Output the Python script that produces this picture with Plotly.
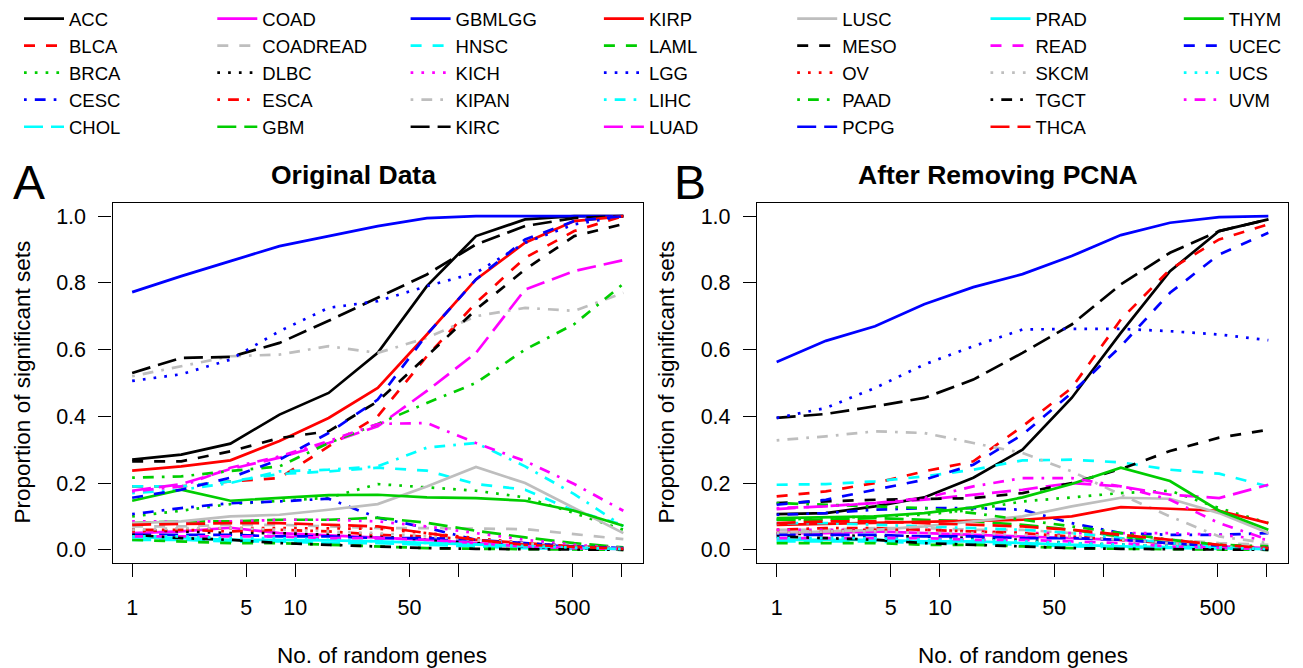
import plotly.graph_objects as go

# ---------------- data ----------------
n_genes = [1, 2, 4, 8, 16, 32, 64, 128, 256, 512, 1024]

cancers = ["ACC", "BLCA", "BRCA", "CESC", "CHOL", "COAD", "COADREAD", "DLBC", "ESCA",
           "GBM", "GBMLGG", "HNSC", "KICH", "KIPAN", "KIRC", "KIRP", "LAML", "LGG",
           "LIHC", "LUAD", "LUSC", "MESO", "OV", "PAAD", "PCPG", "PRAD", "READ",
           "SKCM", "TGCT", "THCA", "THYM", "UCEC", "UCS", "UVM"]

# Panel A: Original Data
orig_ACC = [0.27, 0.285, 0.318, 0.405, 0.47, 0.59, 0.79, 0.94, 0.99, 1.0, 1.0]
orig_BLCA = [0.19, 0.19, 0.205, 0.215, 0.31, 0.40, 0.58, 0.74, 0.875, 0.955, 1.0]
orig_BRCA = [0.10, 0.117, 0.137, 0.147, 0.156, 0.197, 0.186, 0.177, 0.157, 0.11, 0.06]
orig_CESC = [0.107, 0.125, 0.14, 0.145, 0.153, 0.096, 0.066, 0.03, 0.015, 0.01, 0.005]
orig_CHOL = [0.03, 0.03, 0.025, 0.025, 0.02, 0.02, 0.015, 0.01, 0.005, 0.003, 0.001]
orig_COAD = [0.05, 0.055, 0.066, 0.05, 0.043, 0.037, 0.03, 0.02, 0.01, 0.005, 0.003]
orig_COADREAD = [0.07, 0.07, 0.075, 0.075, 0.07, 0.065, 0.065, 0.063, 0.062, 0.047, 0.032]
orig_DLBC = [0.06, 0.055, 0.05, 0.05, 0.045, 0.04, 0.03, 0.02, 0.01, 0.005, 0.002]
orig_ESCA = [0.06, 0.06, 0.055, 0.06, 0.055, 0.045, 0.04, 0.03, 0.02, 0.01, 0.005]
orig_GBM = [0.08, 0.085, 0.085, 0.09, 0.09, 0.096, 0.081, 0.057, 0.037, 0.02, 0.007]
orig_GBMLGG = [0.772, 0.82, 0.865, 0.91, 0.94, 0.97, 0.994, 1.0, 1.0, 1.0, 1.0]
orig_HNSC = [0.19, 0.19, 0.205, 0.227, 0.235, 0.246, 0.237, 0.197, 0.18, 0.117, 0.075]
orig_KICH = [0.085, 0.085, 0.085, 0.09, 0.09, 0.085, 0.07, 0.05, 0.03, 0.015, 0.005]
orig_KIPAN = [0.52, 0.55, 0.58, 0.585, 0.61, 0.59, 0.635, 0.7, 0.725, 0.716, 0.77]
orig_KIRC = [0.53, 0.575, 0.578, 0.62, 0.686, 0.755, 0.825, 0.915, 0.97, 0.994, 1.0]
orig_KIRP = [0.237, 0.25, 0.268, 0.326, 0.395, 0.485, 0.645, 0.81, 0.92, 0.985, 1.0]
orig_LAML = [0.03, 0.025, 0.02, 0.02, 0.015, 0.01, 0.005, 0.003, 0.002, 0.001, 0.0]
orig_LGG = [0.506, 0.526, 0.57, 0.655, 0.725, 0.745, 0.79, 0.83, 0.92, 0.975, 1.0]
orig_LIHC = [0.17, 0.18, 0.2, 0.235, 0.24, 0.25, 0.306, 0.32, 0.25, 0.167, 0.07]
orig_LUAD = [0.177, 0.197, 0.242, 0.276, 0.32, 0.37, 0.476, 0.59, 0.78, 0.835, 0.868]
orig_LUSC = [0.08, 0.085, 0.10, 0.105, 0.12, 0.137, 0.19, 0.248, 0.20, 0.125, 0.05]
orig_MESO = [0.265, 0.265, 0.295, 0.335, 0.355, 0.445, 0.58, 0.72, 0.84, 0.94, 0.976]
orig_OV = [0.055, 0.06, 0.065, 0.065, 0.065, 0.063, 0.05, 0.035, 0.02, 0.01, 0.005]
orig_PAAD = [0.216, 0.22, 0.236, 0.25, 0.32, 0.377, 0.44, 0.50, 0.60, 0.676, 0.797]
orig_PCPG = [0.045, 0.045, 0.045, 0.04, 0.04, 0.035, 0.035, 0.03, 0.02, 0.01, 0.005]
orig_PRAD = [0.037, 0.035, 0.03, 0.03, 0.028, 0.025, 0.02, 0.015, 0.01, 0.005, 0.002]
orig_READ = [0.04, 0.04, 0.04, 0.04, 0.035, 0.035, 0.03, 0.02, 0.01, 0.005, 0.002]
orig_SKCM = [0.06, 0.065, 0.065, 0.06, 0.055, 0.05, 0.04, 0.03, 0.02, 0.01, 0.005]
orig_TGCT = [0.045, 0.035, 0.03, 0.02, 0.015, 0.01, 0.005, 0.003, 0.002, 0.001, 0.0]
orig_THCA = [0.075, 0.078, 0.08, 0.08, 0.075, 0.07, 0.05, 0.03, 0.015, 0.008, 0.003]
orig_THYM = [0.147, 0.18, 0.147, 0.156, 0.164, 0.165, 0.157, 0.155, 0.147, 0.117, 0.072]
orig_UCEC = [0.156, 0.18, 0.216, 0.27, 0.35, 0.45, 0.645, 0.81, 0.93, 0.985, 1.0]
orig_UCS = [0.04, 0.04, 0.035, 0.035, 0.03, 0.025, 0.02, 0.015, 0.01, 0.005, 0.002]
orig_UVM = [0.175, 0.19, 0.246, 0.28, 0.326, 0.377, 0.38, 0.32, 0.266, 0.197, 0.117]

# Panel B: After Removing PCNA
pcna_ACC = [0.107, 0.11, 0.13, 0.157, 0.216, 0.30, 0.455, 0.65, 0.835, 0.955, 0.99]
pcna_BLCA = [0.16, 0.175, 0.20, 0.235, 0.265, 0.37, 0.485, 0.69, 0.84, 0.93, 0.975]
pcna_BRCA = [0.09, 0.095, 0.10, 0.105, 0.12, 0.145, 0.157, 0.17, 0.177, 0.125, 0.08]
pcna_CESC = [0.105, 0.11, 0.12, 0.125, 0.125, 0.12, 0.08, 0.05, 0.045, 0.045, 0.05]
pcna_CHOL = [0.025, 0.025, 0.025, 0.02, 0.02, 0.015, 0.01, 0.008, 0.005, 0.003, 0.001]
pcna_COAD = [0.05, 0.05, 0.055, 0.05, 0.045, 0.04, 0.035, 0.03, 0.02, 0.01, 0.005]
pcna_COADREAD = [0.06, 0.06, 0.065, 0.065, 0.06, 0.06, 0.05, 0.04, 0.03, 0.02, 0.015]
pcna_DLBC = [0.05, 0.045, 0.04, 0.04, 0.035, 0.03, 0.02, 0.015, 0.01, 0.005, 0.002]
pcna_ESCA = [0.06, 0.065, 0.065, 0.06, 0.055, 0.05, 0.04, 0.03, 0.02, 0.01, 0.005]
pcna_GBM = [0.09, 0.09, 0.095, 0.09, 0.085, 0.075, 0.06, 0.04, 0.02, 0.01, 0.005]
pcna_GBMLGG = [0.563, 0.626, 0.67, 0.736, 0.787, 0.826, 0.88, 0.943, 0.98, 0.997, 1.0]
pcna_HNSC = [0.195, 0.197, 0.205, 0.22, 0.24, 0.268, 0.27, 0.262, 0.24, 0.228, 0.19]
pcna_KICH = [0.06, 0.06, 0.06, 0.06, 0.055, 0.05, 0.05, 0.05, 0.05, 0.045, 0.03]
pcna_KIPAN = [0.328, 0.34, 0.355, 0.35, 0.32, 0.29, 0.235, 0.165, 0.10, 0.04, 0.02]
pcna_KIRC = [0.395, 0.407, 0.43, 0.455, 0.51, 0.59, 0.675, 0.795, 0.89, 0.955, 0.99]
pcna_KIRP = [0.075, 0.078, 0.08, 0.082, 0.085, 0.09, 0.10, 0.128, 0.123, 0.117, 0.08]
pcna_LAML = [0.02, 0.02, 0.02, 0.015, 0.015, 0.01, 0.005, 0.003, 0.002, 0.001, 0.0]
pcna_LGG = [0.395, 0.425, 0.485, 0.555, 0.61, 0.66, 0.662, 0.662, 0.655, 0.645, 0.628]
pcna_LIHC = [0.08, 0.08, 0.075, 0.07, 0.065, 0.06, 0.05, 0.035, 0.02, 0.01, 0.005]
pcna_LUAD = [0.122, 0.13, 0.14, 0.15, 0.165, 0.18, 0.20, 0.19, 0.165, 0.155, 0.195]
pcna_LUSC = [0.05, 0.055, 0.06, 0.07, 0.085, 0.10, 0.13, 0.156, 0.153, 0.11, 0.05]
pcna_MESO = [0.14, 0.145, 0.15, 0.152, 0.155, 0.17, 0.20, 0.242, 0.296, 0.336, 0.36]
pcna_OV = [0.05, 0.055, 0.06, 0.06, 0.055, 0.05, 0.04, 0.03, 0.02, 0.01, 0.005]
pcna_PAAD = [0.14, 0.135, 0.13, 0.125, 0.11, 0.09, 0.07, 0.05, 0.03, 0.015, 0.01]
pcna_PCPG = [0.045, 0.045, 0.045, 0.04, 0.04, 0.035, 0.035, 0.03, 0.02, 0.01, 0.005]
pcna_PRAD = [0.03, 0.03, 0.03, 0.025, 0.025, 0.02, 0.015, 0.01, 0.008, 0.005, 0.002]
pcna_READ = [0.035, 0.035, 0.035, 0.035, 0.03, 0.03, 0.025, 0.02, 0.01, 0.005, 0.002]
pcna_SKCM = [0.05, 0.055, 0.055, 0.05, 0.05, 0.045, 0.04, 0.03, 0.02, 0.01, 0.005]
pcna_TGCT = [0.04, 0.035, 0.03, 0.02, 0.015, 0.01, 0.005, 0.003, 0.002, 0.001, 0.0]
pcna_THCA = [0.08, 0.085, 0.085, 0.08, 0.075, 0.07, 0.06, 0.045, 0.03, 0.015, 0.005]
pcna_THYM = [0.095, 0.097, 0.10, 0.11, 0.127, 0.157, 0.197, 0.246, 0.206, 0.117, 0.06]
pcna_UCEC = [0.135, 0.15, 0.18, 0.21, 0.255, 0.345, 0.47, 0.61, 0.77, 0.885, 0.95]
pcna_UCS = [0.035, 0.035, 0.035, 0.03, 0.03, 0.025, 0.02, 0.015, 0.01, 0.005, 0.002]
pcna_UVM = [0.125, 0.13, 0.14, 0.155, 0.19, 0.215, 0.215, 0.19, 0.15, 0.08, 0.03]

x_tickvals = [1, 5, 10, 50, 100, 500, 1000]
x_ticktext = ["1", "5", "10", "50", "", "500", ""]
y_tickvals = [0.0, 0.2, 0.4, 0.6, 0.8, 1.0]
y_ticktext = ["0.0", "0.2", "0.4", "0.6", "0.8", "1.0"]

# ---------------- styles ----------------
g = globals()
orig_vals = {c: g["orig_" + c] for c in cancers}
pcna_vals = {c: g["pcna_" + c] for c in cancers}

palette = ["#000000", "#FF0000", "#00CD00", "#0000FF", "#00FFFF", "#FF00FF", "#BEBEBE"]
LW = 2.7
dashes = ["solid", "11px,11px", "2.7px,8.1px", "2.7px,8.1px,10.8px,8.1px", "19px,8px"]

FONT = "Liberation Sans, Arial, Helvetica, sans-serif"
W, H = 1303, 668

fig = go.Figure()

for i, c in enumerate(cancers):
    col_idx = i // 5
    line = dict(color=palette[i % 7], width=LW, dash=dashes[i % 5])
    legend_name = "legend" if col_idx == 0 else "legend%d" % (col_idx + 1)
    fig.add_trace(go.Scatter(x=n_genes, y=orig_vals[c], mode="lines", name=c,
                             line=line, xaxis="x", yaxis="y",
                             legend=legend_name, showlegend=True))
    fig.add_trace(go.Scatter(x=n_genes, y=pcna_vals[c], mode="lines", name=c,
                             line=line, xaxis="x2", yaxis="y2",
                             showlegend=False))

log_rng = [-0.1204, 3.1307]
y_rng = [-0.04, 1.04]
ydom = [(H - 563) / H, (H - 202) / H]

common_x = dict(type="log", range=log_rng, tickmode="array", tickvals=x_tickvals,
                ticktext=x_ticktext, ticks="outside", ticklen=13, tickwidth=1.3,
                tickcolor="black", showline=True, linecolor="black", linewidth=1.3,
                mirror=True, showgrid=False, zeroline=False,
                tickfont=dict(family=FONT, size=21.5, color="black"),
                ticklabelstandoff=12)
common_y = dict(range=y_rng, tickmode="array", tickvals=y_tickvals, ticktext=y_ticktext,
                ticks="outside", ticklen=13, tickwidth=1.3, tickcolor="black",
                showline=True, linecolor="black", linewidth=1.3, mirror=True,
                showgrid=False, zeroline=False,
                tickfont=dict(family=FONT, size=21.5, color="black"),
                ticklabelstandoff=8)

fig.update_layout(
    width=W, height=H,
    margin=dict(l=0, r=0, t=0, b=0),
    paper_bgcolor="white", plot_bgcolor="white",
    xaxis=dict(domain=[112.5 / W, 643 / W], anchor="y", **common_x),
    yaxis=dict(domain=ydom, anchor="x", **common_y),
    xaxis2=dict(domain=[757 / W, 1288 / W], anchor="y2", **common_x),
    yaxis2=dict(domain=ydom, anchor="x2", **common_y),
)

# legends: 7 columns, each vertical
LEG_FONT = 18.5
for k in range(7):
    key = "legend" if k == 0 else "legend%d" % (k + 1)
    text_x = 69 + 193.3 * k
    fig.update_layout(**{key: dict(
        x=(text_x - 50) / W, y=1.0 + 1.5 / H, xanchor="left", yanchor="top",
        orientation="v", itemwidth=40, tracegroupgap=0,
        font=dict(family=FONT, size=LEG_FONT, color="black"),
        bgcolor="rgba(0,0,0,0)", borderwidth=0, itemclick=False,
    )})

ann = []
def add_text(txt, px, py, size, bold=False, angle=0):
    ann.append(dict(text=("<b>%s</b>" % txt) if bold else txt,
                    x=px / W, y=1 - py / H, xref="paper", yref="paper",
                    xanchor="center", yanchor="middle", showarrow=False,
                    textangle=angle,
                    font=dict(family=FONT, size=size, color="black")))

add_text("Original Data", 353.5, 174, 26.5, bold=True)
add_text("After Removing PCNA", 997.5, 174, 26.5, bold=True)
add_text("A", 29, 182, 48)
add_text("B", 690, 182, 48)
add_text("No. of random genes", 382, 655, 22.5)
add_text("No. of random genes", 1023, 655, 22.5)
add_text("Proportion of significant sets", 22, 382, 22.5, angle=-90)
add_text("Proportion of significant sets", 666, 382, 22.5, angle=-90)
fig.update_layout(annotations=ann)

fig.write_html("out.html", config={"displayModeBar": False},
               post_script="document.body.style.margin='0';")
